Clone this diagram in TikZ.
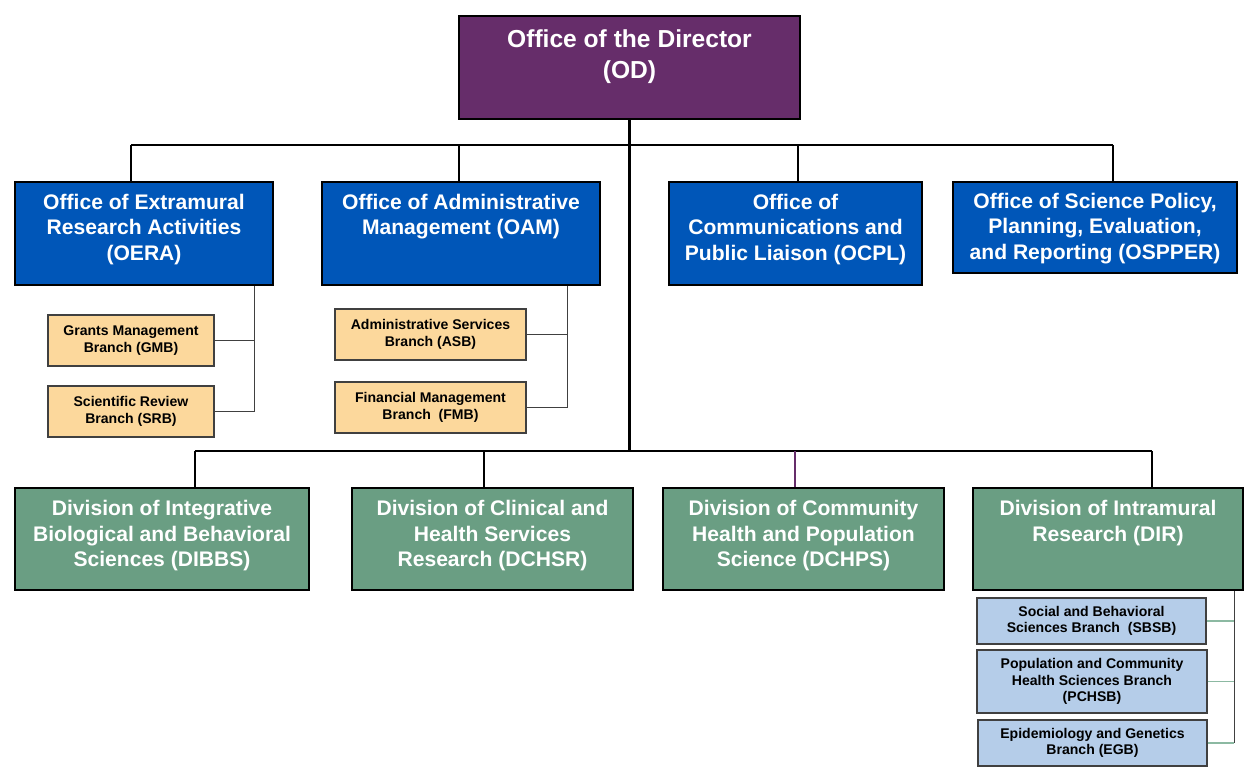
\documentclass[tikz,border=0pt]{standalone}
\usepackage{fontspec}
\setmainfont{Liberation Sans}
\definecolor{odpurple}{RGB}{102,45,106}
\definecolor{officeblue}{RGB}{0,86,184}
\definecolor{divgreen}{RGB}{106,158,131}
\definecolor{branchtan}{RGB}{252,216,156}
\definecolor{sublblue}{RGB}{181,205,233}
\definecolor{leafgreen}{RGB}{140,185,162}
\newcommand{\pxu}{0.02cm}

\begin{document}
\begin{tikzpicture}[x=0.02cm,y=-0.02cm]
    %
    % `unit' is the common look of the big boxes (text kept at the top,
    % text height/depth are measured from the last line).
    % `branch' and `subbranch' are the small boxes below them.
    % `bus' is for the heavy lines, `twig' for the thin ones.
    \tikzstyle{unit} = [draw=black,line width=1.6pt,text=white,align=center,inner sep=0pt,text height=38pt,text depth=7.3pt,font=\bfseries\fontsize{12}{14.5}\selectfont]
    \tikzstyle{head} = [unit,fill=odpurple,text height=28.1pt,text depth=15.4pt,font=\bfseries\fontsize{14}{17.6}\selectfont]
    \tikzstyle{office} = [unit,fill=officeblue]
    \tikzstyle{division} = [unit,fill=divgreen,text depth=6.7pt]
    \tikzstyle{branch} = [draw=black!75,line width=0.8pt,fill=branchtan,align=center,inner sep=0pt,font=\bfseries\fontsize{8}{9.7}\selectfont,minimum width=166*\pxu,minimum height=51*\pxu]
    \tikzstyle{subbranch} = [branch,fill=sublblue,font=\bfseries\fontsize{8}{9.4}\selectfont,minimum width=229*\pxu,minimum height=46*\pxu]
    \tikzstyle{bus} = [line width=1.4pt,draw=black]
    \tikzstyle{twig} = [line width=0.8pt,draw=black!75]
    \tikzstyle{leaf} = [line width=0.8pt,draw=leafgreen]
    %
    \useasboundingbox (0,0) rectangle (1260,780);
    %
    % Director
    \node[head,minimum width=341*\pxu,minimum height=103*\pxu] (od) at (629.5,67.5) {Office of the Director\\(OD)};
    %
    % Offices
    \node[office,minimum width=258*\pxu,minimum height=103*\pxu] (oera) at (144,233.5) {Office of Extramural\\Research Activities\\(OERA)};
    \node[office,minimum width=278*\pxu,minimum height=103*\pxu,text height=23.5pt,text depth=21.8pt] (oam) at (461,233.5) {Office of Administrative\\Management (OAM)};
    \node[office,minimum width=253*\pxu,minimum height=103*\pxu] (ocpl) at (795.5,233.5) {Office of\\Communications and\\Public Liaison (OCPL)};
    \node[office,minimum width=284*\pxu,minimum height=91*\pxu,text depth=1.6pt] (ospper) at (1095,227.5) {Office of Science Policy,\\Planning, Evaluation,\\and Reporting (OSPPER)};
    %
    % Branches of the offices
    \node[branch] (gmb) at (131,340.5) {Grants Management\\Branch (GMB)};
    \node[branch] (srb) at (131,411.5) {Scientific Review\\Branch (SRB)};
    \node[branch,minimum width=191*\pxu] (asb) at (430.5,334.5) {Administrative Services\\Branch (ASB)};
    \node[branch,minimum width=191*\pxu] (fmb) at (430.5,407.5) {Financial Management\\Branch\ \ (FMB)};
    %
    % Divisions
    \node[division,minimum width=294*\pxu,minimum height=102*\pxu] (dibbs) at (162,539) {Division of Integrative\\Biological and Behavioral\\Sciences (DIBBS)};
    \node[division,minimum width=281*\pxu,minimum height=102*\pxu] (dchsr) at (492.5,539) {Division of Clinical and\\Health Services\\Research (DCHSR)};
    \node[division,minimum width=281*\pxu,minimum height=102*\pxu] (dchps) at (803.5,539) {Division of Community\\Health and Population\\Science (DCHPS)};
    \node[division,minimum width=270*\pxu,minimum height=102*\pxu,text height=23.5pt,text depth=21.2pt] (dir) at (1108,539) {Division of Intramural\\Research (DIR)};
    %
    % Branches of DIR
    \node[subbranch] (sbsb) at (1091.5,621) {Social and Behavioral\\Sciences Branch\ \ (SBSB)};
    \node[subbranch,minimum width=230*\pxu,minimum height=63*\pxu] (pchsb) at (1092,681.5) {Population and Community\\Health Sciences Branch\\(PCHSB)};
    \node[subbranch] (egb) at (1092.5,743) {Epidemiology and Genetics\\Branch (EGB)};
    %
    % Upper bus
    \coordinate (t1) at (131,145);
    \coordinate (t2) at (459,145);
    \coordinate (t3) at (798,145);
    \coordinate (t4) at (1113,145);
    \coordinate (low) at (629.5,451);
    \draw[bus] (od.south) -- (low);
    \draw[bus] (t1) -- (t4);
    \draw[bus] (t1) -- (t1 |- oera.north);
    \draw[bus] (t2) -- (t2 |- oam.north);
    \draw[bus] (t3) -- (t3 |- ocpl.north);
    \draw[bus] (t4) -- (t4 |- ospper.north);
    %
    % Lower bus
    \coordinate (b1) at (195,451);
    \coordinate (b2) at (484,451);
    \coordinate (b3) at (795,451);
    \coordinate (b4) at (1152,451);
    \draw[bus] (b1) -- (b4);
    \draw[bus] (b1) -- (b1 |- dibbs.north);
    \draw[bus] (b2) -- (b2 |- dchsr.north);
    \draw[line width=1pt,draw=odpurple] (b3) -- (b3 |- dchps.north);
    \draw[bus] (b4) -- (b4 |- dir.north);
    %
    % Thin lines to the branches
    \coordinate (oera-r) at ([xshift=-0.4cm]oera.south east);
    \draw[twig] (oera-r) |- (srb.east);
    \draw[twig] (gmb.east) -- (gmb.east -| oera-r);
    \coordinate (oam-r) at ([xshift=-0.68cm]oam.south east);
    \draw[twig] (oam-r) |- (fmb.east);
    \draw[twig] (asb.east) -- (asb.east -| oam-r);
    \coordinate (dir-r) at ([xshift=-0.2cm]dir.south east);
    \draw[twig] (dir-r) -- (dir-r |- egb.east);
    \draw[leaf] (sbsb.east) -- (sbsb.east -| dir-r);
    \draw[leaf] (pchsb.east) -- (pchsb.east -| dir-r);
    \draw[leaf] (egb.east) -- (egb.east -| dir-r);
    %
\end{tikzpicture}
\end{document}
